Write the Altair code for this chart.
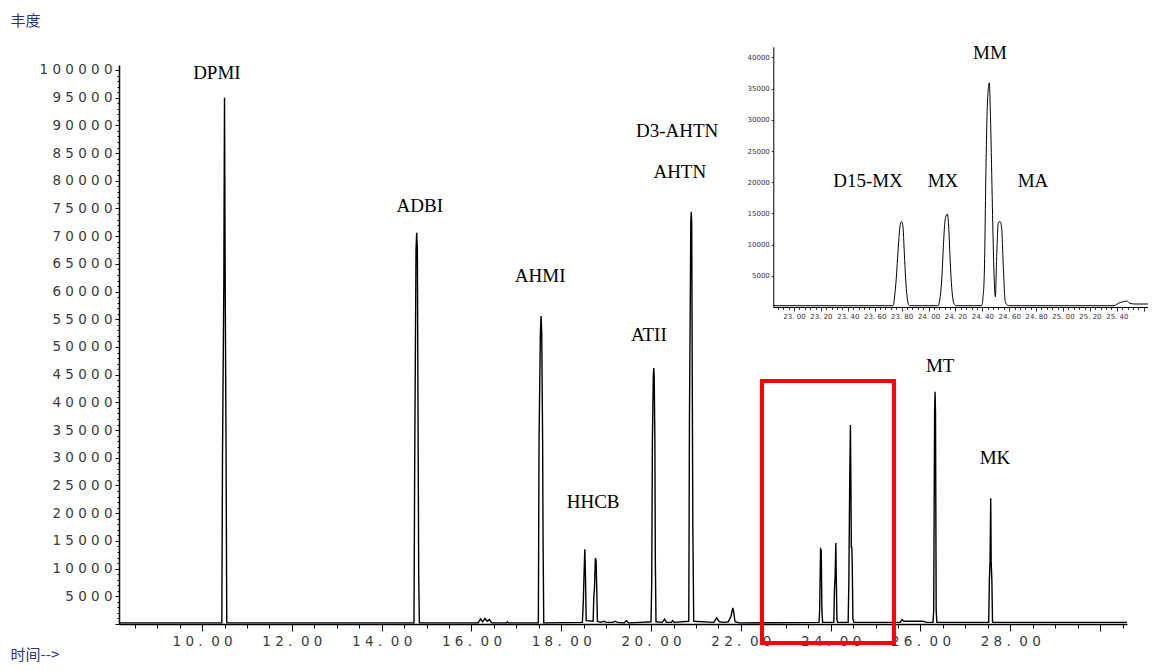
import altair as alt
import pandas as pd

# ---------------- main chromatogram (time in min, abundance) ----------------
TIME = [
    8.15,
    10.44, 10.455, 10.485, 10.50, 10.515, 10.535, 10.55,
    14.72, 14.735, 14.765, 14.78, 14.795, 14.815, 14.825, 14.84,
    16.15, 16.20, 16.25, 16.30, 16.35, 16.40, 16.45, 16.78, 16.80, 16.82,
    17.49, 17.505, 17.535, 17.55, 17.565, 17.585, 17.595, 17.61,
    18.47, 18.49, 18.505, 18.525, 18.54, 18.555,
    18.71, 18.725, 18.74, 18.76, 18.775, 18.79, 18.805,
    18.87, 18.95, 19.00, 19.15, 19.20, 19.25, 19.40, 19.45, 19.50, 19.75,
    20.00, 20.015, 20.03, 20.05, 20.06, 20.07, 20.085, 20.095, 20.11,
    20.25, 20.30, 20.34, 20.45, 20.48, 20.51,
    20.84, 20.855, 20.87, 20.885, 20.895, 20.905, 20.92, 20.93, 20.95,
    21.40, 21.46, 21.52, 21.62, 21.72, 21.78, 21.82, 21.84, 21.87, 21.97,
    23.74, 23.755, 23.775, 23.79, 23.805, 23.82,
    24.07, 24.085, 24.10, 24.115, 24.125, 24.14, 24.155,
    24.39, 24.405, 24.425, 24.44, 24.45, 24.46, 24.47, 24.48, 24.495, 24.515,
    25.55, 25.59, 25.63, 26.05, 26.15,
    26.28, 26.295, 26.315, 26.325, 26.335, 26.35, 26.365,
    27.52, 27.535, 27.55, 27.565, 27.575, 27.59, 27.605,
    30.6,
]
ABUNDANCE = [
    200,
    200, 30000, 62000, 95000, 62000, 30000, 200,
    200, 28000, 67500, 70600, 67500, 28000, 8500, 200,
    200, 900, 400, 1000, 500, 800, 200, 200, 400, 200,
    200, 33000, 52500, 55600, 52500, 33000, 15000, 200,
    300, 3800, 8300, 13500, 8300, 600,
    500, 4900, 6500, 11900, 11500, 6500, 500,
    300, 500, 300, 300, 500, 300, 200, 600, 200, 300,
    400, 7600, 33200, 44600, 46200, 44600, 33200, 11500, 400,
    300, 900, 300, 300, 600, 300,
    500, 37000, 54300, 72400, 74400, 72400, 39500, 17900, 500,
    300, 1100, 400, 300, 400, 1400, 2900, 2200, 400, 200,
    300, 2500, 13500, 13300, 2500, 300,
    300, 6300, 8700, 14600, 8700, 800, 300,
    300, 7600, 26500, 35900, 26500, 13700, 14000, 11200, 1000, 300,
    300, 800, 500, 500, 300,
    300, 2500, 38300, 41900, 38300, 2500, 300,
    300, 8000, 11200, 22700, 11200, 8000, 300,
    300,
]

PEAK_NAMES = ["DPMI", "ADBI", "AHMI", "HHCB", "ATII", "D3-AHTN", "AHTN", "MT", "MK"]
PEAK_T = [10.33, 14.85, 17.53, 18.71, 19.95, 20.58, 20.64, 26.44, 27.66]
PEAK_V = [99450, 75450, 62800, 22000, 52150, 89000, 81600, 46550, 29950]

BOX_T = [22.47, 25.41]
BOX_V = [-3430, 43860]

# ---------------- inset (zoom of 22.85 - 25.64 min) ----------------
INSET_TIME = [
    22.846, 23.735,
    23.74, 23.75, 23.76, 23.77, 23.78, 23.79, 23.80, 23.81, 23.82, 23.83, 23.84, 23.85, 23.86,
    24.07, 24.08, 24.09, 24.10, 24.11, 24.12, 24.13, 24.14, 24.15, 24.16, 24.17, 24.18, 24.19, 24.205,
    24.395, 24.405, 24.415, 24.4275, 24.437, 24.452, 24.462, 24.475, 24.487, 24.497,
    24.507, 24.519, 24.532, 24.544, 24.556, 24.571, 24.594,
    25.38, 25.411, 25.449, 25.473, 25.498, 25.535, 25.632,
]
INSET_ABUNDANCE = [
    210, 210,
    400, 2100, 4500, 7800, 11000, 13200, 13700, 12900, 8700, 4500, 1800, 500, 210,
    210, 700, 2200, 5000, 9500, 13200, 14600, 14900, 12900, 8000, 3900, 1500, 500, 210,
    210, 1500, 5400, 22500, 32100, 35950, 29450, 16100, 5400, 1650,
    8100, 13500, 13700, 12600, 6500, 850, 210,
    210, 590, 850, 960, 590, 480, 480,
]

INSET_NAMES = ["D15-MX", "MX", "MM", "MA"]
INSET_T = [23.55, 24.108, 24.457, 24.777]
INSET_V = [20200, 20200, 40700, 20200]

MAIN_X_DOMAIN = [8.15, 30.6]
MAIN_Y_DOMAIN = [0, 100900]
INSET_X_DOMAIN = [22.846, 25.632]
INSET_Y_DOMAIN = [0, 41730]
INSET_Y_LABELS = [5000, 10000, 15000, 20000, 25000, 30000, 35000, 40000]

PLOT_W, PLOT_H = 1008, 559
INSET_X_RANGE = [654.3, 1029]
INSET_Y_RANGE = [242, -18.3]

BLUE = "#2a3590"
NBSP = "\u00a0"

main_df = pd.DataFrame({"t": TIME, "v": ABUNDANCE})
label_df = pd.DataFrame({"t": PEAK_T, "v": PEAK_V, "name": PEAK_NAMES})
box_df = pd.DataFrame({"t": [BOX_T[0]], "t2": [BOX_T[1]], "v": [BOX_V[0]], "v2": [BOX_V[1]]})
inset_df = pd.DataFrame({"t": INSET_TIME, "v": INSET_ABUNDANCE})
inset_label_df = pd.DataFrame({"t": INSET_T, "v": INSET_V, "name": INSET_NAMES})

x_ticks = [round(8.5 + 0.5 * i, 2) for i in range(45)]
y_ticks = list(range(0, 100001, 1000))
inset_x_ticks = [round(22.88 + 0.04 * i, 2) for i in range(69)]

xs = alt.Scale(domain=MAIN_X_DOMAIN, nice=False, zero=False)
ys = alt.Scale(domain=MAIN_Y_DOMAIN, nice=False, zero=False)

main_x_axis = alt.Axis(
    values=x_ticks, grid=False,
    title="时间-->", titleX=-109, titleY=30, titleAngle=0, titleAlign="left",
    titleBaseline="middle", titleFont="Noto Sans CJK SC", titleFontSize=15,
    titleFontWeight="normal", titleColor=BLUE,
    labelExpr=("datum.value % 2 === 0 && datum.value >= 10 && datum.value <= 28 ? "
               "replace(join(split(format(datum.value, '.2f'), ''), ' '), '. ', '." + NBSP + " ') : ''"),
    labelFont="DejaVu Sans", labelFontSize=13.5, labelColor="#3a3a3a", labelPadding=3,
    labelFlush=False, labelOverlap=False,
    tickSize={"condition": {"test": "datum.value % 2 === 0", "value": 7}, "value": 4},
    tickColor="black", tickWidth=1, domainColor="black", domainWidth=1.5,
)
main_y_axis = alt.Axis(
    values=y_ticks, grid=False,
    title="丰度", titleX=-109, titleY=-45, titleAngle=0, titleAlign="left",
    titleBaseline="middle", titleFont="Noto Sans CJK SC", titleFontSize=15,
    titleFontWeight="normal", titleColor=BLUE,
    labelExpr=("datum.value > 0 && datum.value % 5000 === 0 ? "
               "join(split(format(datum.value, 'd'), ''), ' ') : ''"),
    labelFont="DejaVu Sans", labelFontSize=13.5, labelColor="#3a3a3a", labelPadding=3,
    labelFlush=False, labelOverlap=False,
    tickSize={"condition": {"test": "datum.value % 5000 === 0", "value": 4}, "value": 2},
    tickColor="black", tickWidth=1, domainColor="black", domainWidth=1.5,
)

trace = alt.Chart(main_df).mark_line(color="black", strokeWidth=1.4).encode(
    x=alt.X("t:Q", scale=xs, axis=main_x_axis),
    y=alt.Y("v:Q", scale=ys, axis=main_y_axis),
)
box = alt.Chart(box_df).mark_rect(fill="white", fillOpacity=0, stroke="#ff0000", strokeWidth=4).encode(
    x=alt.X("t:Q", scale=xs, axis=main_x_axis),
    x2="t2:Q",
    y=alt.Y("v:Q", scale=ys, axis=main_y_axis),
    y2="v2:Q",
)
labels = alt.Chart(label_df).mark_text(font="Liberation Serif", fontSize=19, color="black",
                                       align="center", baseline="middle").encode(
    x=alt.X("t:Q", scale=xs, axis=main_x_axis),
    y=alt.Y("v:Q", scale=ys, axis=main_y_axis),
    text="name:N",
)
main = alt.layer(trace, box, labels)

ixs = alt.Scale(domain=INSET_X_DOMAIN, range=INSET_X_RANGE, nice=False, zero=False)
iys = alt.Scale(domain=INSET_Y_DOMAIN, range=INSET_Y_RANGE, nice=False, zero=False)
major_test = "abs(datum.value * 5 - round(datum.value * 5)) < 0.001"
inset_x_axis = alt.Axis(
    orient="bottom", offset=INSET_Y_RANGE[0] - PLOT_H, values=inset_x_ticks, grid=False, title="",
    labelExpr=(major_test + " && datum.value > 22.99 && datum.value < 25.41 ? "
               "replace(format(datum.value, '.2f'), '.', '. ') : ''"),
    labelFont="DejaVu Sans", labelFontSize=7, labelColor="#333", labelPadding=1,
    labelFlush=False, labelOverlap=False,
    tickSize={"condition": {"test": major_test, "value": 4}, "value": 2.5},
    tickColor="black", tickWidth=0.8, domainColor="black", domainWidth=1,
)
inset_y_axis = alt.Axis(
    orient="left", offset=-INSET_X_RANGE[0], values=INSET_Y_LABELS, grid=False, title="",
    format="d", labelFont="DejaVu Sans", labelFontSize=7, labelColor="#333", labelPadding=2,
    labelFlush=False, labelOverlap=False, tickSize=2,
    tickColor="black", tickWidth=0.8, domainColor="black", domainWidth=1,
)

inset_trace = alt.Chart(inset_df).mark_line(color="black", strokeWidth=1, interpolate="monotone").encode(
    x=alt.X("t:Q", scale=ixs, axis=inset_x_axis),
    y=alt.Y("v:Q", scale=iys, axis=inset_y_axis),
)
inset_labels = alt.Chart(inset_label_df).mark_text(font="Liberation Serif", fontSize=19, color="black",
                                                   align="center", baseline="middle").encode(
    x=alt.X("t:Q", scale=ixs, axis=inset_x_axis),
    y=alt.Y("v:Q", scale=iys, axis=inset_y_axis),
    text="name:N",
)
inset = alt.layer(inset_trace, inset_labels)

chart = (
    alt.layer(main, inset)
    .resolve_scale(x="independent", y="independent")
    .resolve_axis(x="independent", y="independent")
    .properties(
        width=PLOT_W, height=PLOT_H,
        padding={"left": 111, "top": 57, "right": 21, "bottom": 39},
        autosize=alt.AutoSizeParams(type="none"),
        background="white",
    )
    .configure_view(strokeWidth=0)
)

chart.save("out.html", embed_options={"renderer": "svg", "actions": False})
